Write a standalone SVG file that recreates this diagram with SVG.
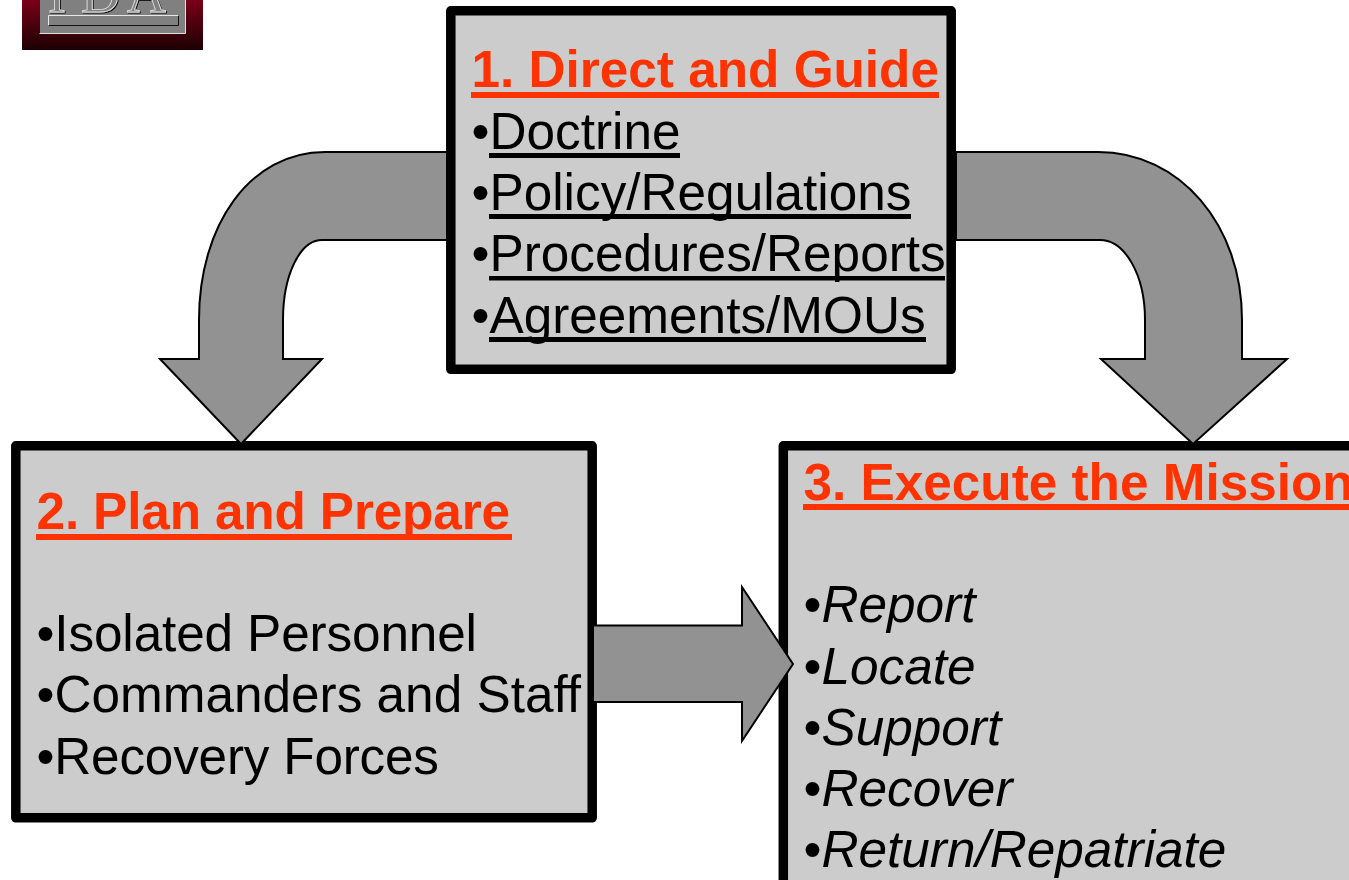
<svg xmlns="http://www.w3.org/2000/svg" width="1349" height="880" viewBox="0 0 1349 880">
<defs>
<linearGradient id="logoGrad" x1="0" y1="0" x2="0" y2="1"><stop offset="0" stop-color="#7a0018"/><stop offset="1" stop-color="#1c0002"/></linearGradient>
<filter id="emboss" x="-10%" y="-10%" width="120%" height="120%"><feDropShadow dx="1" dy="1" stdDeviation="0.3" flood-color="#111"/></filter>
</defs>
<style>
.box{fill:#cccccc;stroke:#000;stroke-width:9.500;stroke-linejoin:round}
.arrow{fill:#929292;stroke:#000;stroke-width:2;stroke-linejoin:miter}
text{font-family:"Liberation Sans",Arial,sans-serif;font-size:51.300px;fill:#000}
.title{font-weight:bold;fill:#ff3300}
.ul{fill:#000}
.tl{fill:#ff3300}
.i{font-style:italic}
.logoText{font-family:"Liberation Serif",serif;font-size:54px;fill:#808080;stroke:#e4e4e4;stroke-width:.8;filter:url(#emboss)}
</style>
<rect width="1349" height="880" fill="#fff"/>
<g id="logo">
<rect x="22" y="0" width="181" height="50" fill="url(#logoGrad)"/>
<rect x="40" y="-2" width="145" height="35" fill="#808080"/>
<path d="M39.500 33.500H185.500V0" fill="none" stroke="#e0e0e0" stroke-width="1"/>
<text class="logoText" x="48" y="12">I</text>
<text class="logoText" x="81" y="12">D</text>
<text class="logoText" x="127" y="12">A</text>
<rect x="48.500" y="15.500" width="130" height="10" fill="#808080"/>
<path d="M48.500 25V15.500H178" fill="none" stroke="#e8e8e8" stroke-width="1"/>
<path d="M49 25.500H178.500V16" fill="none" stroke="#111" stroke-width="1"/>
</g>
<g id="node1">
<rect class="box" x="450.800" y="10.800" width="500.400" height="358.500"/>
<text class="title" x="471.500" y="87">1. Direct and Guide</text>
<rect class="tl" x="471" y="92" width="468" height="6"/>
<text x="471.500" y="149">•Doctrine</text>
<rect class="ul" x="489" y="153" width="191" height="5"/>
<text x="471.500" y="210">•Policy/Regulations</text>
<rect class="ul" x="489" y="214" width="422" height="5"/>
<text x="471.500" y="271">•Procedures/Reports</text>
<rect class="ul" x="489" y="276" width="456" height="4.500"/>
<text x="471.500" y="333">•Agreements/MOUs</text>
<rect class="ul" x="489" y="337" width="437" height="5"/>
</g>
<g id="node2">
<rect class="box" x="15.800" y="445.800" width="576.400" height="372"/>
<text class="title" x="36.500" y="529" textLength="473.500">2. Plan and Prepare</text>
<rect class="tl" x="36" y="534" width="476" height="6"/>
<text x="36.500" y="651" textLength="440.500">•Isolated Personnel</text>
<text x="36.500" y="712">•Commanders and Staff</text>
<text x="36.500" y="774" textLength="402.500">•Recovery Forces</text>
</g>
<g id="node3">
<rect class="box" x="783.300" y="445.800" width="600" height="450"/>
<text class="title" x="803.500" y="500">3. Execute the Mission</text>
<rect class="tl" x="803" y="504" width="546" height="6"/>
<text x="803.500" y="622">•<tspan class="i">Report</tspan></text>
<text x="803.500" y="684">•<tspan class="i">Locate</tspan></text>
<text x="803.500" y="745">•<tspan class="i">Support</tspan></text>
<text x="803.500" y="806">•<tspan class="i">Recover</tspan></text>
<text x="803.500" y="867">•<tspan class="i">Return/Repatriate</tspan></text>
</g>
<g id="connectors">
<path class="arrow" d="M447 152H325C250 152 199 225 199 320V359H160L241 444L322 359H283V320C283 275 300 240 322 240H447Z"/>
<path class="arrow" d="M956 152H1098C1180 152 1242 225 1242 320V359H1287L1193 444L1101 359H1145V320C1145 275 1125 240 1100 240H956Z"/>
<path class="arrow" d="M593 625.500H742V587L793 664L742 741V702H593Z"/>
</g>
</svg>
